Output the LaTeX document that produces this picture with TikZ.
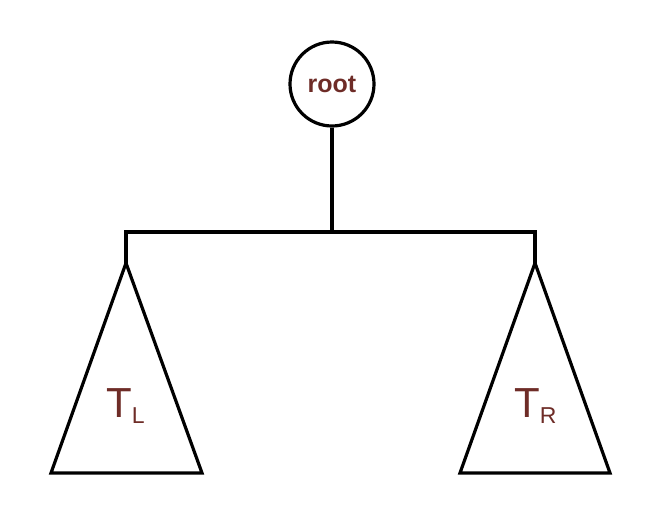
\documentclass[tikz,border=0pt]{standalone}
\usepackage{fontspec}
\setmainfont{Liberation Sans}
\definecolor{txt}{HTML}{6E2C27}
\begin{document}
\begin{tikzpicture}[x=1pt,y=-1pt,
  edge/.style={line width=3.2pt,line join=miter},
  tri/.style={line width=3.2pt,line join=miter},
  lbl/.style={text=txt,inner sep=0pt}]
\useasboundingbox (0,0) rectangle (672,504);
\node[draw,circle,line width=3.2pt,minimum size=84pt,inner sep=0pt,text=txt,font=\fontsize{25}{28}\selectfont\bfseries] (root) at (332,84) {root};
\coordinate (j) at (332,232);
\coordinate (la) at (126,263);
\coordinate (ra) at (535,263);
\draw[edge] (root.south) -- (j);
\draw[edge] (la) -- (126,232) -- (535,232) -- (ra);
\draw[tri] (la) -- (51,473) -- (202,473) -- cycle;
\draw[tri] (ra) -- (460,473) -- (610,473) -- cycle;
\node[lbl,anchor=base west,font=\fontsize{42}{48}\selectfont] (tl) at (106,417) {T\raisebox{-6pt}{\fontsize{23}{26}\selectfont L}};
\node[lbl,anchor=base west,font=\fontsize{42}{48}\selectfont] (tr) at (514,417) {T\raisebox{-6pt}{\fontsize{23}{26}\selectfont R}};
\end{tikzpicture}
\end{document}
